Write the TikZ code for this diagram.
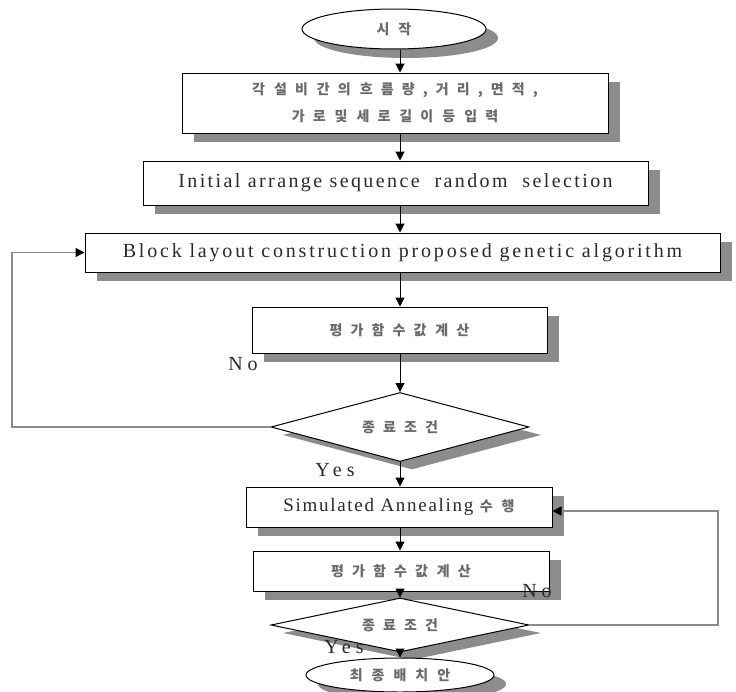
\documentclass[tikz,border=0pt]{standalone}
\usepackage{fontspec}
\setmainfont{Liberation Serif}
\newfontfamily\ensp{Liberation Serif}[LetterSpace=12]
\newfontfamily\enspw{Liberation Serif}[LetterSpace=14]
\newfontfamily\enspl{Liberation Serif}[LetterSpace=25]
\newfontfamily\enspn{Liberation Serif}[LetterSpace=9]
\newfontfamily\krsp{Noto Sans CJK KR}[LetterSpace=58]
\newcommand\kgap{\hbox to 9pt{\hss}}
\usetikzlibrary{shapes.geometric,shadows,arrows.meta}
\definecolor{shd}{HTML}{8C8C8C}
\definecolor{txt}{HTML}{2A2A2A}
\definecolor{krtxt}{HTML}{6A6A6A}
\definecolor{loopc}{HTML}{8A8A8A}
\begin{document}
\begin{tikzpicture}[x=1pt,y=-1pt,
  shd/.style={drop shadow={shadow xshift=12pt,shadow yshift=-9pt,fill=shd,opacity=1}},
  box/.style={draw=black,line width=1pt,fill=white,inner sep=0pt,align=center,shd},
  ell/.style={ellipse,draw=black,line width=1pt,fill=white,inner sep=0pt,shd},
  dia/.style={diamond,draw=black,line width=1pt,fill=white,inner sep=0pt,
    drop shadow={shadow xshift=12pt,shadow yshift=-8pt,fill=shd,opacity=1}},
  entext/.style={font=\ensp\fontsize{20}{22}\selectfont,text=txt},
  krtext/.style={font=\krsp\bfseries\fontsize{14}{27}\selectfont,text=krtxt},
  arr/.style={draw=black,line width=1pt,-{Triangle[length=9pt,width=9pt]}},
  looparr/.style={draw=loopc,line width=1.5pt,-{Triangle[length=9pt,width=9pt,color=black]}},
  lbl/.style={font=\enspl\fontsize{20}{22}\selectfont,text=txt}
]
\useasboundingbox[fill=white] (0,0) rectangle (736,691);
\coordinate (ax) at (400,0);

\node[ell,minimum width=184pt,minimum height=40pt,krtext] (start) at (394,29) {시\kgap 작};
\node[box,minimum width=426pt,minimum height=60pt,krtext] (b1) at (395,103)
  {각\kgap 설비\kgap 간의\kgap 흐름량,거리,면적,\\가로\kgap 및\kgap 세로\kgap 길이\kgap 등\kgap 입력};
\node[box,minimum width=505pt,minimum height=44pt,entext] (b2) at (395.5,183)
  {Initial arrange sequence\ \ random\ \ selection};
\node[box,minimum width=635pt,minimum height=39pt,font=\enspw\fontsize{20}{22}\selectfont,text=txt] (b3) at (402.5,252.5)
  {Block layout construction proposed genetic algorithm};
\node[box,minimum width=295pt,minimum height=46pt,krtext] (b4) at (399.5,330) {평가함수값\kgap 계산};
\node[dia,aspect=3.7,minimum width=258pt,minimum height=69pt,krtext] (d1) at (400,427) {종료조건};
\node[box,minimum width=306pt,minimum height=40pt,font=\enspn\fontsize{19}{21}\selectfont,text=txt] (b5) at (399,507)
  {Simulated Annealing {\krsp\bfseries\fontsize{14}{16}\selectfont\color{krtxt}수\kgap 행}};
\node[box,minimum width=296pt,minimum height=40pt,krtext] (b6) at (401,571) {평가함수값\kgap 계산};
\node[dia,aspect=4.8,minimum width=258pt,minimum height=54pt,krtext] (d2) at (400,625) {종료조건};
\node[ell,minimum width=188pt,minimum height=34pt,krtext] (end) at (400,675) {최\kgap 종\kgap 배\kgap 치\kgap 안};

\draw[arr] (start.south -| ax) -- (b1.north -| ax);
\draw[arr] (b1.south -| ax) -- (b2.north -| ax);
\draw[arr] (b2.south -| ax) -- (b3.north -| ax);
\draw[arr] (b3.south -| ax) -- (b4.north -| ax);
\draw[arr] (b4.south -| ax) -- (d1.north);
\draw[arr] (d1.south) -- (b5.north -| ax);
\draw[arr] (b5.south -| ax) -- (b6.north -| ax);
\draw[arr] (b6.south -| ax) -- (d2.north);
\draw[arr] (d2.south) -- (end.north);

\coordinate (L1) at (12,427);
\coordinate (L2) at (12,252.5);
\draw[looparr] (d1.west) -- (L1) -- (L2) -- (b3.west);
\coordinate (R1) at (718,625);
\coordinate (R2) at (718,511);
\draw[looparr] (d2.east) -- (R1) -- (R2) -- (R2 -| b5.east);

\node[lbl] (no1) at (243,364) {No};
\node[lbl] (yes1) at (335,470) {Yes};
\node[lbl] (no2) at (537,591) {No};
\node[lbl] (yes2) at (344,647) {Yes};
\end{tikzpicture}
\end{document}
